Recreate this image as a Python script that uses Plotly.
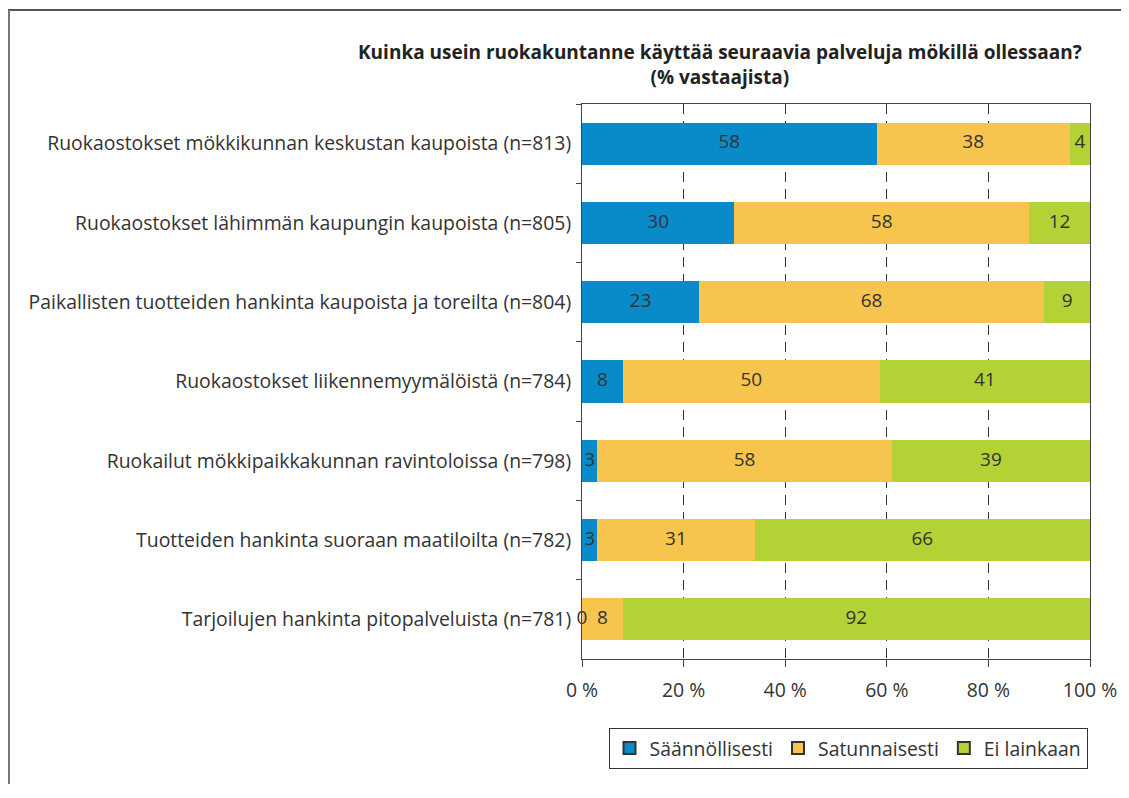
import plotly.graph_objects as go

categories = [
    "Ruokaostokset mökkikunnan keskustan kaupoista (n=813)",
    "Ruokaostokset lähimmän kaupungin kaupoista (n=805)",
    "Paikallisten tuotteiden hankinta kaupoista ja toreilta (n=804)",
    "Ruokaostokset liikennemyymälöistä (n=784)",
    "Ruokailut mökkipaikkakunnan ravintoloissa (n=798)",
    "Tuotteiden hankinta suoraan maatiloilta (n=782)",
    "Tarjoilujen hankinta pitopalveluista (n=781)",
]
saannollisesti = [58, 30, 23, 8, 3, 3, 0]
satunnaisesti = [38, 58, 68, 50, 58, 31, 8]
ei_lainkaan = [4, 12, 9, 41, 39, 66, 92]

series_names = ["Säännöllisesti", "Satunnaisesti", "Ei lainkaan"]
series_values = [saannollisesti, satunnaisesti, ei_lainkaan]
colors = ["#0A8BC9", "#F7C54D", "#B3D235"]
x_ticks = [0, 20, 40, 60, 80, 100]
x_tick_labels = ["0 %", "20 %", "40 %", "60 %", "80 %", "100 %"]
title_line1 = "Kuinka usein ruokakuntanne käyttää seuraavia palveluja mökillä ollessaan?"
title_line2 = "(% vastaajista)"

TXT = "#333333"
FONT = "Open Sans"
FS = 19.4

totals = [sum(v) for v in zip(*series_values)]
fig = go.Figure()

cum = [0.0] * len(categories)
tx, ty, tt = [], [], []
for name, vals, col in zip(series_names, series_values, colors):
    norm = [v / t * 100 for v, t in zip(vals, totals)]
    fig.add_trace(go.Bar(
        y=categories, x=norm, orientation="h", name=name,
        marker=dict(color=col, line=dict(width=0)),
        showlegend=False, hoverinfo="skip",
    ))
    for i, (v, n) in enumerate(zip(vals, norm)):
        tx.append(cum[i] + n / 2)
        ty.append(categories[i])
        tt.append(str(v))
        cum[i] += n

fig.add_trace(go.Scatter(
    x=tx, y=ty, text=tt, mode="text", textposition="middle center",
    textfont=dict(family=FONT, size=19, color=TXT),
    showlegend=False, cliponaxis=False, hoverinfo="skip",
))

for name, col in zip(series_names, colors):
    fig.add_trace(go.Scatter(
        x=[None], y=[None], mode="markers", name=name,
        marker=dict(symbol="square", size=16, color=col, line=dict(color=TXT, width=1)),
    ))

# reference-pixel geometry (page has an 8px body margin)
OFF = 8
W, H = 1129 - 2 * OFF, 798 - 2 * OFF - 6
L, R, T, B = 582, 1090, 104, 659
pw, ph = R - L, B - T

def px(x):
    return (x - L) / pw

def py(y):
    return (B - y) / ph

fig.update_layout(
    width=W, height=H, autosize=False,
    margin=dict(l=L - OFF, r=W - (R - OFF), t=T - OFF, b=H - (B - OFF), pad=0, autoexpand=False),
    paper_bgcolor="white", plot_bgcolor="white",
    barmode="stack", bargap=0.47,
    font=dict(family=FONT, size=FS, color=TXT),
    xaxis=dict(
        range=[0, 100], tickmode="array", tickvals=x_ticks, ticktext=x_tick_labels,
        showgrid=True, gridcolor="#333333", gridwidth=1, griddash="10px,7px",
        showline=True, linecolor="#444444", linewidth=1, mirror=True,
        ticks="outside", ticklen=7, tickcolor="#444444", ticklabelstandoff=7,
        tickfont=dict(size=FS, color=TXT), zeroline=False, fixedrange=True,
        automargin=False,
    ),
    yaxis=dict(
        categoryorder="array", categoryarray=categories, autorange="reversed",
        showline=True, linecolor="#444444", linewidth=1, mirror=True,
        ticks="outside", ticklen=5, tickcolor="#444444", tickson="boundaries",
        tickfont=dict(size=FS, color=TXT), showgrid=False, fixedrange=True,
        ticklabelstandoff=6, automargin=False,
    ),
    legend=dict(
        orientation="h", x=px(848), xanchor="center", y=py(728), yanchor="top",
        bordercolor="#333333", borderwidth=1, font=dict(size=FS, color=TXT),
        itemsizing="constant", traceorder="normal", itemwidth=30,
    ),
    annotations=[
        dict(text="<b>" + title_line1 + "<br>" + title_line2 + "</b>", xref="paper", yref="paper",
             x=px(720), y=py(64), xanchor="center", yanchor="middle", align="center",
             showarrow=False, font=dict(family=FONT, size=19, color="#222222")),
    ],
    shapes=[
        dict(type="line", xref="paper", yref="paper", x0=px(8), x1=px(1140), y0=py(10), y1=py(10),
             line=dict(color="#555555", width=2)),
        dict(type="line", xref="paper", yref="paper", x0=px(9), x1=px(9), y0=py(10), y1=py(805),
             line=dict(color="#777777", width=2)),
    ],
)

fig.write_html("out.html")
